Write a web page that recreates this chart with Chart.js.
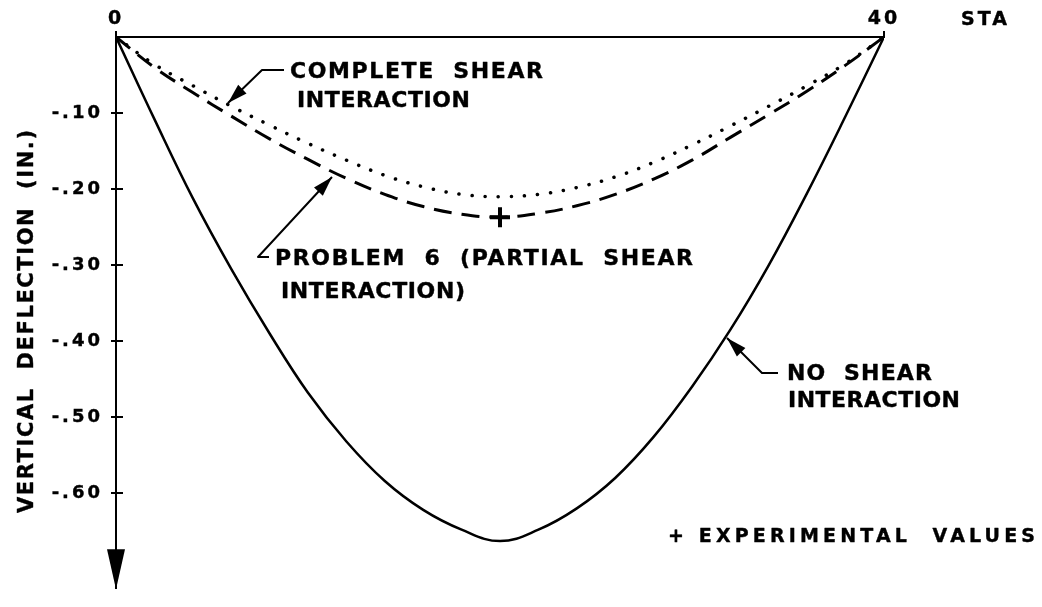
<!DOCTYPE html>
<html>
<head>
<meta charset="utf-8">
<script src="https://cdn.jsdelivr.net/npm/chart.js@4.4.1/dist/chart.umd.min.js"></script>
<style>
  html, body { margin: 0; padding: 0; background: #fff; }
  #wrap { width: 1042px; height: 607px; position: relative; }
</style>
</head>
<body>
<div id="wrap"><canvas id="deflection"></canvas></div>
<script>
// stations along the span (STA) and vertical deflection in inches
const stations = [0, 2, 4, 6, 8, 10, 12, 14, 16, 18, 20, 22, 24, 26, 28, 30, 32, 34, 36, 38, 40];
const noShear = [0, -0.108, -0.212, -0.305, -0.390, -0.468, -0.532, -0.584, -0.622, -0.648, -0.663,
                 -0.648, -0.620, -0.580, -0.526, -0.460, -0.385, -0.300, -0.205, -0.104, 0];
const partialShear = [0, -0.040, -0.073, -0.104, -0.134, -0.161, -0.186, -0.207, -0.223, -0.233, -0.237,
                      -0.232, -0.222, -0.207, -0.187, -0.162, -0.132, -0.102, -0.071, -0.037, 0];
const completeShear = [0, -0.036, -0.064, -0.091, -0.116, -0.140, -0.162, -0.182, -0.197, -0.207, -0.210,
                       -0.207, -0.198, -0.184, -0.165, -0.142, -0.117, -0.091, -0.064, -0.035, 0];

// measured deflection
const testStations = [20];
const testValues = [-0.237];

const xTicks = [0, 40];
const yTicks = [-0.1, -0.2, -0.3, -0.4, -0.5, -0.6];
const yTickLabels = ['-.10', '-.20', '-.30', '-.40', '-.50', '-.60'];

const FONT = 'DejaVu Sans';
const INK = '#000';

const pts = ys => stations.map((x, i) => ({ x, y: ys[i] }));

// capitals stretched out to a set width, like stencil lettering
function spacedText(ctx, text, x, y, width, size) {
  ctx.font = `bold ${size}px "${FONT}"`;
  ctx.letterSpacing = '0px';
  const natural = ctx.measureText(text).width;
  ctx.letterSpacing = ((width - natural) / (text.length - 1)) + 'px';
  ctx.textAlign = 'left';
  ctx.textBaseline = 'alphabetic';
  ctx.lineWidth = 0.4;
  ctx.lineJoin = 'round';
  ctx.fillText(text, x, y);
  ctx.strokeText(text, x, y);
  ctx.letterSpacing = '0px';
}

function arrowHead(ctx, fx, fy, tx, ty, len, half) {
  const a = Math.atan2(ty - fy, tx - fx);
  const bx = tx - Math.cos(a) * len, by = ty - Math.sin(a) * len;
  ctx.beginPath();
  ctx.moveTo(tx, ty);
  ctx.lineTo(bx + Math.sin(a) * half, by - Math.cos(a) * half);
  ctx.lineTo(bx - Math.sin(a) * half, by + Math.cos(a) * half);
  ctx.closePath();
  ctx.fill();
}

// leader line: short tail, shaft, filled head at the curve
function leader(ctx, tail, elbow, tip) {
  ctx.lineWidth = 2;
  ctx.beginPath();
  ctx.moveTo(tail[0], tail[1]);
  ctx.lineTo(elbow[0], elbow[1]);
  ctx.lineTo(tip[0], tip[1]);
  ctx.stroke();
  arrowHead(ctx, elbow[0], elbow[1], tip[0], tip[1], 20, 6);
}

const sketch = {
  id: 'sketch',
  beforeDraw(chart) {
    chart.ctx.letterSpacing = '3px';
  },
  afterDraw(chart) {
    const { ctx, chartArea: area, scales: { y } } = chart;
    ctx.save();
    ctx.fillStyle = INK;
    ctx.strokeStyle = INK;
    ctx.lineWidth = 2;

    // tick marks cross the vertical axis
    yTicks.forEach(v => {
      const py = Math.round(y.getPixelForValue(v));
      ctx.beginPath();
      ctx.moveTo(area.left, py);
      ctx.lineTo(area.left + 7, py);
      ctx.stroke();
    });

    // arrow at the foot of the deflection axis
    ctx.beginPath();
    ctx.moveTo(area.left, area.bottom + 1);
    ctx.lineTo(area.left - 9, area.bottom - 39);
    ctx.lineTo(area.left + 9, area.bottom - 39);
    ctx.closePath();
    ctx.fill();

    // axis names
    spacedText(ctx, 'STA', 961, 25, 46, 19);
    ctx.save();
    ctx.translate(33, 513);
    ctx.rotate(-Math.PI / 2);
    spacedText(ctx, 'VERTICAL  DEFLECTION  (IN.)', 0, 0, 383, 21);
    ctx.restore();

    // curve notes
    spacedText(ctx, 'COMPLETE  SHEAR', 290, 78, 253, 22);
    spacedText(ctx, 'INTERACTION', 297, 107, 173, 22);
    leader(ctx, [284, 70], [262, 70], [228, 103]);

    spacedText(ctx, 'PROBLEM  6  (PARTIAL  SHEAR', 275, 265, 418, 22);
    spacedText(ctx, 'INTERACTION)', 281, 298, 184, 22);
    leader(ctx, [269, 257], [258, 257], [332, 177]);

    spacedText(ctx, 'NO  SHEAR', 787, 380, 145, 22);
    spacedText(ctx, 'INTERACTION', 788, 407, 172, 22);
    leader(ctx, [778, 373], [762, 373], [727, 338]);

    spacedText(ctx, '+ EXPERIMENTAL  VALUES', 668, 542, 367, 19);
    ctx.restore();
  }
};

const tickFont = size => ({ family: FONT, size, weight: 'bold' });

new Chart(document.getElementById('deflection'), {
  type: 'line',
  data: {
    datasets: [
      {
        label: 'NO SHEAR INTERACTION',
        data: pts(noShear),
        borderColor: INK,
        borderWidth: 2.5,
        pointRadius: 0,
        tension: 0.4,
      },
      {
        label: 'PROBLEM 6 (PARTIAL SHEAR INTERACTION)',
        data: pts(partialShear),
        borderColor: INK,
        borderWidth: 3,
        borderDash: [18, 10],
        pointRadius: 0,
        tension: 0.4,
      },
      {
        label: 'COMPLETE SHEAR INTERACTION',
        data: pts(completeShear),
        borderColor: INK,
        borderWidth: 3.5,
        borderDash: [0.1, 13],
        borderCapStyle: 'round',
        pointRadius: 0,
        tension: 0.4,
      },
      {
        label: 'EXPERIMENTAL VALUES',
        data: testStations.map((x, i) => ({ x, y: testValues[i] })),
        showLine: false,
        pointStyle: 'cross',
        pointRadius: 10,
        pointBorderWidth: 4,
        pointBorderColor: INK,
      },
    ],
  },
  options: {
    responsive: true,
    maintainAspectRatio: false,
    animation: false,
    layout: { padding: { left: 0, top: 0, right: 158, bottom: 7 } },
    plugins: { legend: { display: false }, tooltip: { enabled: false } },
    scales: {
      x: {
        type: 'linear',
        position: 'top',
        min: 0,
        max: 40,
        afterBuildTicks: s => { s.ticks = xTicks.map(v => ({ value: v })); },
        afterFit: s => { s.height = 37; },
        grid: { drawOnChartArea: false, tickLength: 6, color: INK, lineWidth: 2 },
        border: { display: true, color: INK, width: 2 },
        ticks: {
          font: tickFont(19), color: INK, padding: 1, maxRotation: 0, autoSkip: false,
          textStrokeColor: INK, textStrokeWidth: 0.4,
        },
      },
      y: {
        type: 'linear',
        min: -0.725,
        max: 0,
        afterBuildTicks: s => { s.ticks = yTicks.map(v => ({ value: v })); },
        afterFit: s => { s.width = 116; },
        grid: { drawOnChartArea: false, tickLength: 5, color: INK, lineWidth: 2 },
        border: { display: true, color: INK, width: 2 },
        ticks: {
          font: tickFont(18),
          color: INK,
          padding: 8,
          autoSkip: false,
          textStrokeColor: INK,
          textStrokeWidth: 0.4,
          callback: (v, i) => yTickLabels[i],
        },
      },
    },
  },
  plugins: [sketch],
});
</script>
</body>
</html>
